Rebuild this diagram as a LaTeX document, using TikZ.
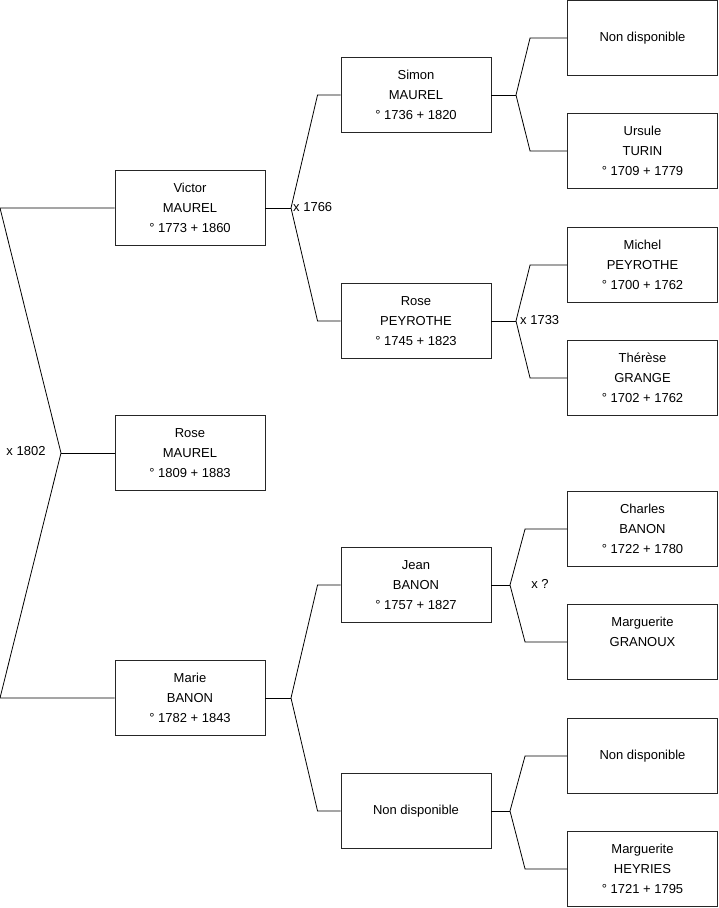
\documentclass[tikz,border=0pt]{standalone}
\usepackage{fontspec}
\setmainfont{Liberation Sans}
\usepackage{tikz}
\usetikzlibrary{positioning}

\tikzset{
  person/.style={draw=black!85, line width=0.9pt, rectangle,
    minimum width=150pt, minimum height=75pt, inner sep=0pt,
    align=center, font=\fontsize{13}{20}\selectfont},
  union/.style={font=\fontsize{13}{15}\selectfont, inner sep=0pt},
  link/.style={line width=0.8pt, black}
}

\begin{document}
\begin{tikzpicture}[x=1pt,y=-1pt]
\useasboundingbox (0,0) rectangle (719,908);

% Generation 1
\node[person] (victor) at (190,208) {Victor\\MAUREL\\° 1773 + 1860};
\node[person] (roseM)  at (190,453) {Rose\\MAUREL\\° 1809 + 1883};
\node[person] (marie)  at (190,698) {Marie\\BANON\\° 1782 + 1843};

% Generation 2
\node[person] (simon) at (416,95)  {Simon\\MAUREL\\° 1736 + 1820};
\node[person] (roseP) at (416,321) {Rose\\PEYROTHE\\° 1745 + 1823};
\node[person] (jean)  at (416,585) {Jean\\BANON\\° 1757 + 1827};
\node[person] (nd2)   at (416,811) {Non disponible};

% Generation 3
\node[person] (nd1)      at (642.5,38)  {Non disponible};
\node[person] (ursule)   at (642.5,151) {Ursule\\TURIN\\° 1709 + 1779};
\node[person] (michel)   at (642.5,265) {Michel\\PEYROTHE\\° 1700 + 1762};
\node[person] (therese)  at (642.5,378) {Thérèse\\GRANGE\\° 1702 + 1762};
\node[person] (charles)  at (642.5,529) {Charles\\BANON\\° 1722 + 1780};
\node[person] (granoux)  at (642.5,642) {Marguerite\\GRANOUX\\~};
\node[person] (nd3)      at (642.5,756) {Non disponible};
\node[person] (heyries)  at (642.5,869) {Marguerite\\HEYRIES\\° 1721 + 1795};

% Marriage points
\coordinate (m0) at (61,453);
\coordinate (m1) at (291,208);
\coordinate (m2) at (291,698);
\coordinate (m3) at (516,95);
\coordinate (m4) at (516,321);
\coordinate (m5) at (510,585);
\coordinate (m6) at (510,811);

% Links
\draw[link] (victor.west) -- (0,208) -- (m0) -- (0,698) -- (marie.west);
\draw[link] (m0) -- (roseM.west);

\draw[link] (victor.east) -- (m1);
\draw[link] (simon.west) -- ++(-23,0) -- (m1) -- ([xshift=-23pt]roseP.west) -- (roseP.west);
\draw[link] (marie.east) -- (m2);
\draw[link] (jean.west) -- ++(-23,0) -- (m2) -- ([xshift=-23pt]nd2.west) -- (nd2.west);

\draw[link] (simon.east) -- (m3);
\draw[link] (nd1.west) -- ++(-37,0) -- (m3) -- ([xshift=-37pt]ursule.west) -- (ursule.west);
\draw[link] (roseP.east) -- (m4);
\draw[link] (michel.west) -- ++(-37,0) -- (m4) -- ([xshift=-37pt]therese.west) -- (therese.west);
\draw[link] (jean.east) -- (m5);
\draw[link] (charles.west) -- ++(-42,0) -- (m5) -- ([xshift=-42pt]granoux.west) -- (granoux.west);
\draw[link] (nd2.east) -- (m6);
\draw[link] (nd3.west) -- ++(-42,0) -- (m6) -- ([xshift=-42pt]heyries.west) -- (heyries.west);

% Marriage years
\node[union] (u0) at (26,451) {x 1802};
\node[union, anchor=west] (u1) at (293,207) {x 1766};
\node[union, anchor=west] (u4) at (520,320) {x 1733};
\node[union] (u5) at (540,584) {x ?};

\end{tikzpicture}
\end{document}
